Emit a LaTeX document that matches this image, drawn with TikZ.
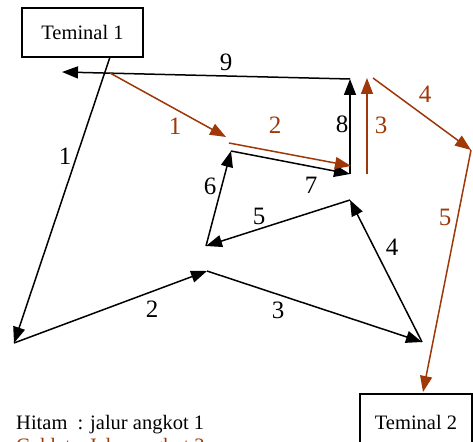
\documentclass[tikz,border=0pt]{standalone}
\usepackage{fontspec}
\setmainfont{Liberation Serif}
\usetikzlibrary{arrows.meta}
\definecolor{brn}{RGB}{158,56,8}
\tikzset{
  blk/.style={draw=black, line width=1.5pt, -{Triangle[length=16pt,width=12pt]}},
  brw/.style={draw=brn, line width=1.5pt, -{Triangle[length=16pt,width=12pt]}},
  lab/.style={font=\fontsize{25}{29}\selectfont, inner sep=0pt},
  blab/.style={lab, text=brn},
  term/.style={draw, line width=1.2pt, font=\fontsize{20.5}{24}\selectfont, inner sep=0pt},
  leg/.style={font=\fontsize{20.5}{24}\selectfont, inner sep=0pt, anchor=base west}
}
\begin{document}
\begin{tikzpicture}[x=1pt,y=-1pt]
\clip (0,0) rectangle (473,441);
\fill[white] (0,0) rectangle (473,441);
% terminals
\node[term, minimum width=121pt, minimum height=49pt] (T1) at (82.5,32.5) {Teminal 1};
\node[term, minimum width=112pt, minimum height=56pt] (T2) at (416,422) {Teminal 2};
% black route points
\coordinate (a0) at (110,57);
\coordinate (a1) at (14,343);
\coordinate (a2) at (207,271);
\coordinate (a3) at (422,342);
\coordinate (a4) at (350,200);
\coordinate (a5) at (206,246);
\coordinate (a6) at (231,151);
\coordinate (a7) at (350,174);
\coordinate (a8) at (350,79);
\coordinate (a9) at (62,72);
\draw[blk] (a0) -- (a1);
\draw[blk] (a1) -- (a2);
\draw[blk] (a2) -- (a3);
\draw[blk] (a3) -- (a4);
\draw[blk] (a4) -- (a5);
\draw[blk] (a5) -- (a6);
\draw[blk] (a6) -- (a7);
\draw[blk] (a7) -- (a8);
\draw[blk] (a8) -- (a9);
% brown route points
\coordinate (b1s) at (110,73);
\coordinate (b1e) at (226,137);
\coordinate (b2s) at (229,143);
\coordinate (b2e) at (351,166);
\coordinate (b3s) at (367,174);
\coordinate (b3e) at (367,78);
\coordinate (b4s) at (373,78);
\coordinate (b4e) at (471,150);
\coordinate (b5e) at (423,392);
\draw[brw] (b1s) -- (b1e);
\draw[brw] (b2s) -- (b2e);
\draw[brw] (b3s) -- (b3e);
\draw[brw] (b4s) -- (b4e);
\draw[brw] (b4e) -- (b5e);
% black labels
\node[lab] (k1) at (65,156) {1};
\node[lab] (k2) at (152,309) {2};
\node[lab] (k3) at (278,310) {3};
\node[lab] (k4) at (392,247) {4};
\node[lab] (k5) at (259,216) {5};
\node[lab] (k6) at (210,186) {6};
\node[lab] (k7) at (311,185) {7};
\node[lab] (k8) at (342,124) {8};
\node[lab] (k9) at (226,62) {9};
% brown labels
\node[blab] (c1) at (175,126) {1};
\node[blab] (c2) at (275,125) {2};
\node[blab] (c3) at (381,125) {3};
\node[blab] (c4) at (425,94) {4};
\node[blab] (c5) at (445,217) {5};
% legend
\node[leg] (lg1) at (16,429) {Hitam\ \ : jalur angkot 1};
\node[leg, text=brn] (lg2) at (16,452) {Coklat : Jalur angkot 2};
\end{tikzpicture}
\end{document}
